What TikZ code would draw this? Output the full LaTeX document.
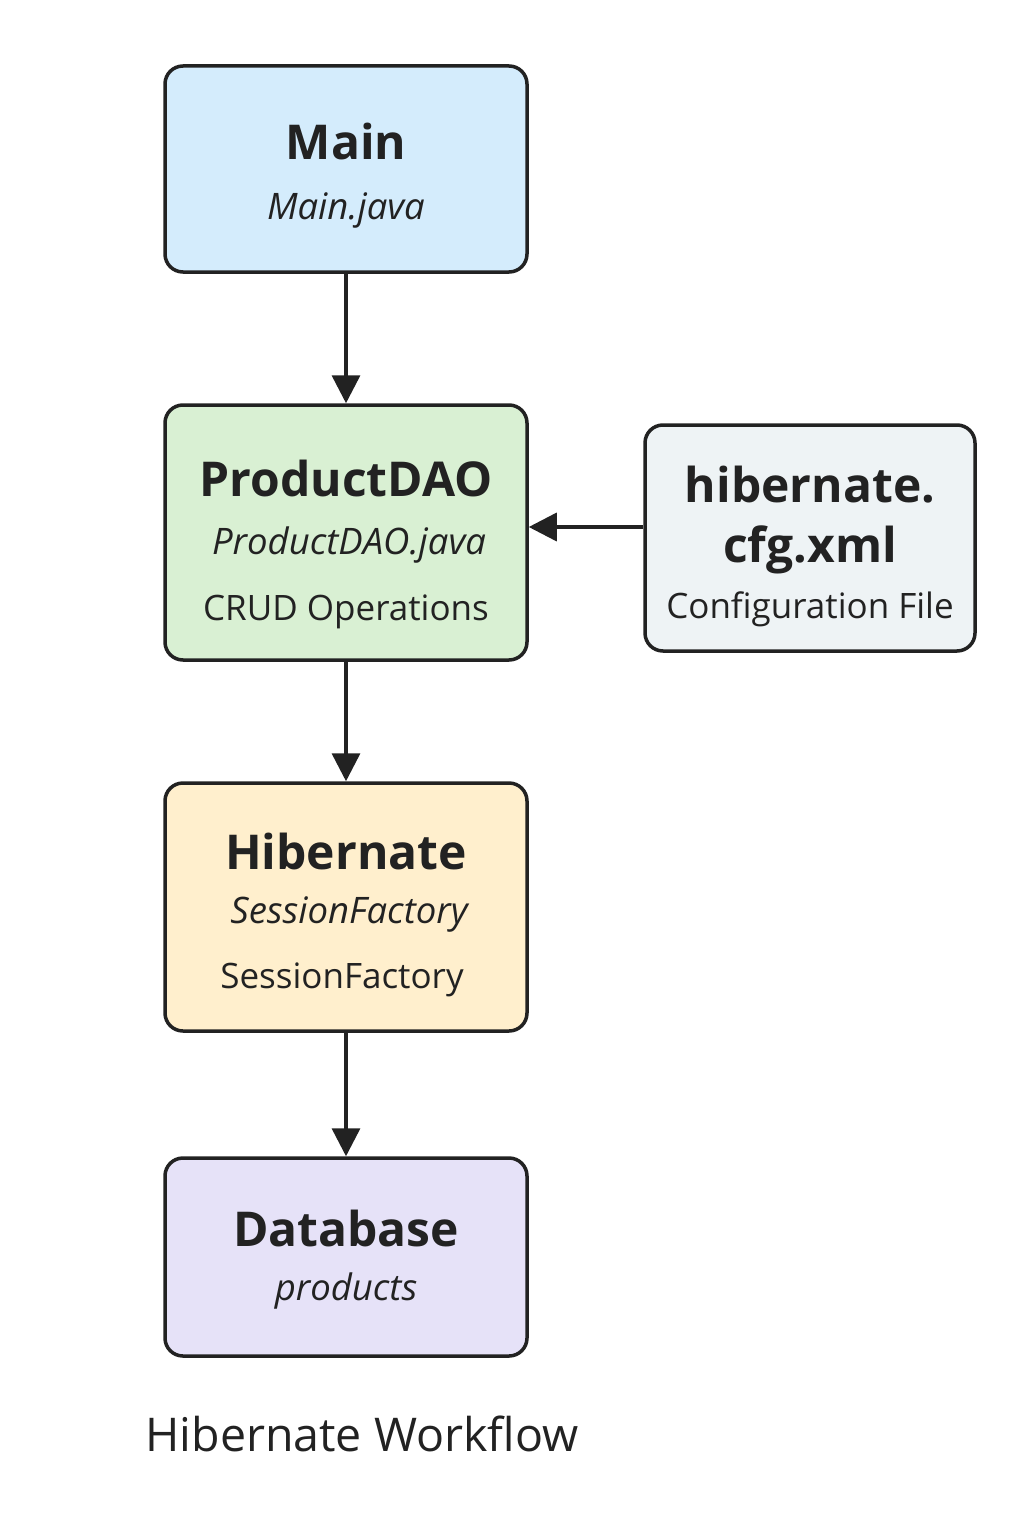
\documentclass[tikz,border=0pt]{standalone}
\usepackage{fontspec}
\setmainfont{Open Sans}
\usetikzlibrary{arrows.meta}
\definecolor{cMain}{HTML}{D4ECFC}
\definecolor{cDao}{HTML}{D9F0D3}
\definecolor{cCfg}{HTML}{EEF3F5}
\definecolor{cHib}{HTML}{FFEFCD}
\definecolor{cDb}{HTML}{E6E2F8}
\definecolor{ink}{HTML}{222222}
\tikzset{
  box/.style={draw=ink, line width=3.5pt, rounded corners=18pt, inner sep=0pt, minimum width=362pt},
  ttl/.style={font=\fontsize{48}{56}\selectfont\bfseries, text=ink, inner sep=0pt, anchor=base},
  sub/.style={font=\fontsize{36.5}{40}\selectfont\itshape, text=ink, inner sep=0pt, anchor=base},
  reg/.style={font=\fontsize{35}{40}\selectfont, text=ink, inner sep=0pt, anchor=base},
  arr/.style={draw=ink, line width=3.5pt, -{Triangle[length=28pt,width=28pt]}}
}
\begin{document}
\begin{tikzpicture}[x=1pt,y=-1pt]
\useasboundingbox[fill=white] (0,0) rectangle (1024,1536);
\node[box, fill=cMain, minimum height=206pt] (main) at (346,169) {};
\node[box, fill=cDao, minimum height=255pt] (dao) at (346,532.5) {};
\node[box, fill=cCfg, minimum width=330pt, minimum height=226pt] (cfg) at (810,538) {};
\node[box, fill=cHib, minimum height=248pt] (hib) at (346,907) {};
\node[box, fill=cDb, minimum height=198pt] (db) at (346,1257) {};

\node[ttl] (mainT) at (346,160) {Main};
\node[sub] (mainS) at (346,219) {Main.java};

\node[ttl] (daoT) at (346,496) {ProductDAO};
\node[sub] (daoS) at (349,554) {ProductDAO.java};
\node[reg] (daoR) at (346,620) {CRUD Operations};

\node[ttl] (cfgT1) at (810,502) {hibernate.};
\node[ttl] (cfgT2) at (810,562) {cfg.xml};
\node[reg] (cfgR) at (810,618) {Configuration File};

\node[ttl] (hibT) at (346,869) {Hibernate};
\node[sub] (hibS) at (349,923) {SessionFactory};
\node[reg] (hibR) at (342,988) {SessionFactory};

\node[ttl] (dbT) at (346,1246) {Database};
\node[sub] (dbS) at (346,1300) {products};

\node[font=\fontsize{46.5}{52}\selectfont, text=ink, inner sep=0pt, anchor=base] (title) at (362,1451) {Hibernate Workflow};

\coordinate (cfgIn) at (cfg.west |- 0,527);
\draw[arr] (main.south) -- (dao.north);
\draw[arr] (dao.south) -- (hib.north);
\draw[arr] (hib.south) -- (db.north);
\draw[arr] (cfgIn) -- (dao.east |- cfgIn);
\end{tikzpicture}
\end{document}
